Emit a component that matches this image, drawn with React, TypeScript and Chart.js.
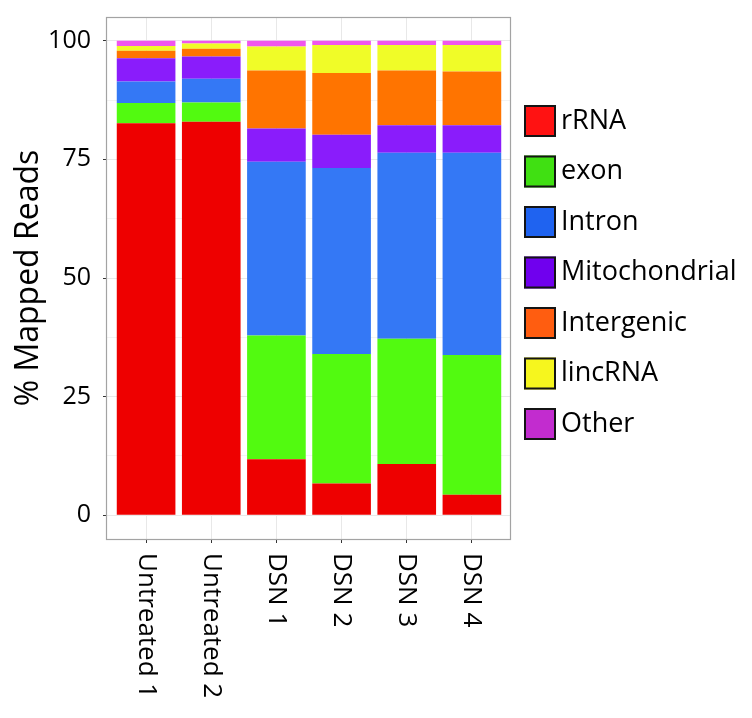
import React, { useEffect, useRef } from "react";
import { Chart, registerables } from "chart.js";

Chart.register(...registerables);

const categories = ["Untreated 1", "Untreated 2", "DSN 1", "DSN 2", "DSN 3", "DSN 4"];
const seriesNames = ["rRNA", "exon", "Intron", "Mitochondrial", "Intergenic", "lincRNA", "Other"];
const rRNA = [82.6, 82.9, 11.8, 6.7, 10.8, 4.3];
const exon = [4.3, 4.1, 26.1, 27.3, 26.4, 29.5];
const intron = [4.5, 5.0, 36.6, 39.2, 39.2, 42.6];
const mitochondrial = [4.9, 4.7, 7.0, 7.0, 5.8, 5.8];
const intergenic = [1.6, 1.6, 12.2, 13.0, 11.5, 11.3];
const lincRNA = [1.0, 1.1, 5.1, 5.9, 5.4, 5.6];
const other = [1.1, 0.6, 1.2, 0.9, 0.9, 0.9];
const yTicks = [0, 25, 50, 75, 100];

const barColors = ["#ee0000", "#52fa10", "#3478f5", "#8a1cfb", "#ff7400", "#f0fc28", "#f055ee"];
const legendColors = ["#ff1212", "#40e012", "#1f63f0", "#7000ee", "#ff5d10", "#f6f61e", "#c22ccf"];

const FONT = "'Open Sans', sans-serif";

const seriesValues = [rRNA, exon, intron, mitochondrial, intergenic, lincRNA, other];
const minorTicks = yTicks.slice(1).map((v, i) => (v + yTicks[i]) / 2);
const allYTicks = [...yTicks, ...minorTicks].sort((a, b) => a - b);

const panelBorder = {
  id: "panelBorder",
  afterDatasetsDraw(chart: any) {
    const { ctx, chartArea } = chart;
    ctx.save();
    ctx.strokeStyle = "#a3a3a3";
    ctx.lineWidth = 1.2;
    ctx.strokeRect(chartArea.left - 0.5, chartArea.top + 0.5, chartArea.right - chartArea.left, chartArea.bottom - chartArea.top);
    ctx.restore();
  },
};

const xLabels = {
  id: "xLabels",
  afterDraw(chart: any) {
    const { ctx } = chart;
    const xs = chart.scales.x;
    ctx.save();
    ctx.font = `26px ${FONT}`;
    ctx.fillStyle = "#000";
    ctx.textAlign = "left";
    ctx.textBaseline = "middle";
    categories.forEach((c, i) => {
      const px = xs.getPixelForValue(i);
      ctx.save();
      ctx.translate(px, xs.top + 14);
      ctx.rotate(Math.PI / 2);
      ctx.fillText(c, 0, 0);
      ctx.restore();
    });
    ctx.restore();
  },
};

const sideLegend = {
  id: "sideLegend",
  afterDraw(chart: any) {
    const { ctx, chartArea } = chart;
    const box = 32;
    const pitch = 50.5;
    const x0 = chartArea.right + 13;
    const y0 = chartArea.top + 88;
    ctx.save();
    ctx.font = `27px ${FONT}`;
    ctx.textBaseline = "middle";
    ctx.textAlign = "left";
    chart.data.datasets.forEach((ds: any, i: number) => {
      const y = y0 + i * pitch;
      ctx.fillStyle = legendColors[i];
      ctx.fillRect(x0, y, box, box);
      ctx.lineWidth = 2;
      ctx.strokeStyle = "#141414";
      ctx.strokeRect(x0 + 1, y + 1, box - 2, box - 2);
      ctx.fillStyle = "#000";
      ctx.fillText(ds.label, x0 + box + 5, y + box / 2);
    });
    ctx.restore();
  },
};

export default function App() {
  const ref = useRef<HTMLCanvasElement>(null);
  useEffect(() => {
    if (!ref.current) return;
    const chart = new Chart(ref.current, {
      type: "bar",
      data: {
        datasets: seriesNames.map((name, si) => ({
          label: name,
          data: seriesValues[si].map((v, i) => ({ x: i, y: v })),
          backgroundColor: barColors[si],
          borderWidth: 0,
          categoryPercentage: 1,
          barPercentage: 0.9,
        })),
      },
      options: {
        responsive: false,
        animation: false,
        layout: { padding: { top: 15, right: 241, left: 0, bottom: 0 } },
        plugins: { legend: { display: false }, tooltip: { enabled: false } },
        scales: {
          x: {
            type: "linear",
            stacked: true,
            offset: false,
            min: -0.6,
            max: categories.length - 0.4,
            afterBuildTicks: (s: any) => {
              s.ticks = categories.map((_, i) => ({ value: i }));
            },
            ticks: { display: false },
            grid: { offset: false, color: "#e8e8e8", lineWidth: 1, tickLength: 4, tickColor: "#333" },
            border: { display: false },
            afterFit: (s: any) => {
              s.height = 179;
            },
          },
          y: {
            stacked: true,
            min: -5,
            max: 105,
            afterBuildTicks: (s: any) => {
              s.ticks = allYTicks.map((v) => ({ value: v }));
            },
            ticks: {
              autoSkip: false,
              callback: (v: any) => (yTicks.includes(v) ? String(v) : ""),
              font: { family: FONT, size: 25, lineHeight: 0.4 },
              color: "#000",
              padding: 12,
            },
            grid: {
              color: (c: any) => (c.tick && yTicks.includes(c.tick.value) ? "#e8e8e8" : "#f3f3f3"),
              lineWidth: 1,
              tickLength: 4,
              tickColor: (c: any) => (c.tick && yTicks.includes(c.tick.value) ? "#333" : "rgba(0,0,0,0)"),
            },
            border: { display: false },
            title: {
              display: true,
              text: "% Mapped Reads",
              font: { family: FONT, size: 32 },
              color: "#000",
              padding: { top: 10, bottom: 0 },
            },
            afterFit: (s: any) => {
              s.width = 107;
            },
          },
        },
      },
      plugins: [panelBorder, xLabels, sideLegend],
    });
    return () => chart.destroy();
  }, []);
  return (
    <div style={{ position: "fixed", left: 0, top: 0, width: 752, height: 718, background: "#fff" }}>
      <canvas ref={ref} width={752} height={718} />
    </div>
  );
}
